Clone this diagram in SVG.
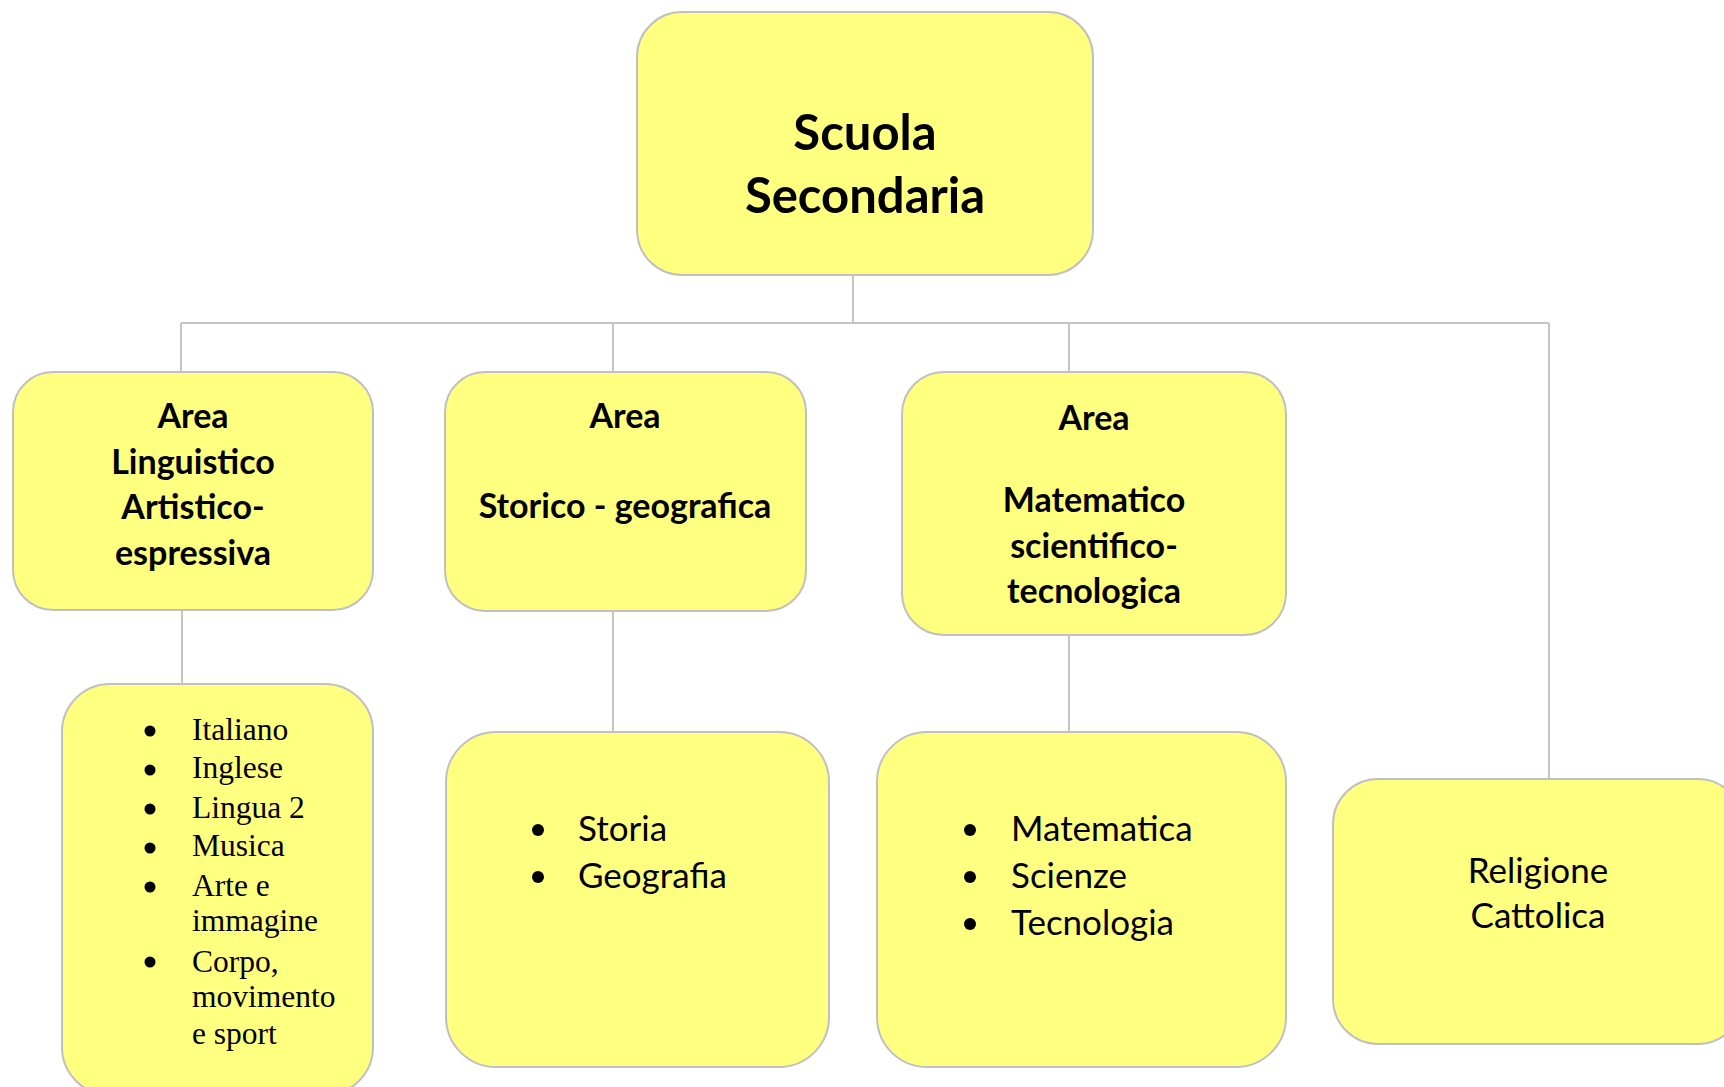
<svg xmlns="http://www.w3.org/2000/svg" width="1724" height="1087" viewBox="0 0 1724 1087">
<style>
.box{fill:#ffff80;stroke:#c0c0c0;stroke-width:2}
.ln{stroke:#c4c4c4;stroke-width:2;fill:none}
.h{font-family:Lato,"Liberation Sans",sans-serif;font-weight:bold;font-size:34px;fill:#000;text-anchor:middle}
.t{font-family:Lato,"Liberation Sans",sans-serif;font-weight:bold;font-size:49px;fill:#000;text-anchor:middle}
.r{font-family:Lato,"Liberation Sans",sans-serif;font-size:35px;fill:#000}
.s{font-family:"Liberation Serif","Times New Roman",serif;font-size:31.5px;fill:#000}
.b{fill:#000}
</style>
<rect width="1724" height="1087" fill="#fff"/>
<g id="connectors">
<path class="ln" d="M853 275V323M181 323H1549M181 323V372M613 323V372M1069 323V372M1549 323V779"/>
<path class="ln" d="M182 610V684M613 611V732M1069 635V732"/>
</g>
<g id="root">
<rect class="box" x="637" y="12" width="456" height="263" rx="45"/>
<text class="t" x="865" y="150">Scuola</text>
<text class="t" x="865" y="213">Secondaria</text>
</g>
<g id="area-linguistico">
<rect class="box" x="13" y="372" width="360" height="238" rx="40"/>
<text class="h" x="193" y="428">Area</text>
<text class="h" x="193" y="474">Linguistico</text>
<text class="h" x="193" y="519">Artistico-</text>
<text class="h" x="193" y="565">espressiva</text>
</g>
<g id="area-storico">
<rect class="box" x="445" y="372" width="361" height="239" rx="40"/>
<text class="h" x="625" y="428">Area</text>
<text class="h" x="625" y="518">Storico - geografica</text>
</g>
<g id="area-matematico">
<rect class="box" x="902" y="372" width="384" height="263" rx="42"/>
<text class="h" x="1094" y="430">Area</text>
<text class="h" x="1094" y="512">Matematico</text>
<text class="h" x="1094" y="558">scientifico-</text>
<text class="h" x="1094" y="603">tecnologica</text>
</g>
<g id="materie-linguistico">
<rect class="box" x="62" y="684" width="311" height="411" rx="48"/>
<circle class="b" cx="150" cy="731" r="5.5"/>
<circle class="b" cx="150" cy="770" r="5.5"/>
<circle class="b" cx="150" cy="809" r="5.5"/>
<circle class="b" cx="150" cy="848" r="5.5"/>
<circle class="b" cx="150" cy="887" r="5.5"/>
<circle class="b" cx="150" cy="962" r="5.5"/>
<text class="s" x="192" y="740">Italiano</text>
<text class="s" x="192" y="778">Inglese</text>
<text class="s" x="192" y="818">Lingua 2</text>
<text class="s" x="192" y="856">Musica</text>
<text class="s" x="192" y="896">Arte e</text>
<text class="s" x="192" y="931">immagine</text>
<text class="s" x="192" y="972">Corpo,</text>
<text class="s" x="192" y="1007">movimento</text>
<text class="s" x="192" y="1044">e sport</text>
</g>
<g id="materie-storico">
<rect class="box" x="446" y="732" width="383" height="335" rx="50"/>
<circle class="b" cx="538" cy="830" r="6"/>
<circle class="b" cx="538" cy="877" r="6"/>
<text class="r" x="578" y="841">Storia</text>
<text class="r" x="578" y="888">Geografia</text>
</g>
<g id="materie-matematico">
<rect class="box" x="877" y="732" width="409" height="335" rx="50"/>
<circle class="b" cx="970" cy="830" r="6"/>
<circle class="b" cx="970" cy="877" r="6"/>
<circle class="b" cx="970" cy="924" r="6"/>
<text class="r" x="1011" y="841">Matematica</text>
<text class="r" x="1011" y="888">Scienze</text>
<text class="r" x="1011" y="935">Tecnologia</text>
</g>
<g id="religione">
<rect class="box" x="1333" y="779" width="410" height="265" rx="45"/>
<text class="r" x="1538" y="883" text-anchor="middle">Religione</text>
<text class="r" x="1538" y="928" text-anchor="middle">Cattolica</text>
</g>
</svg>
